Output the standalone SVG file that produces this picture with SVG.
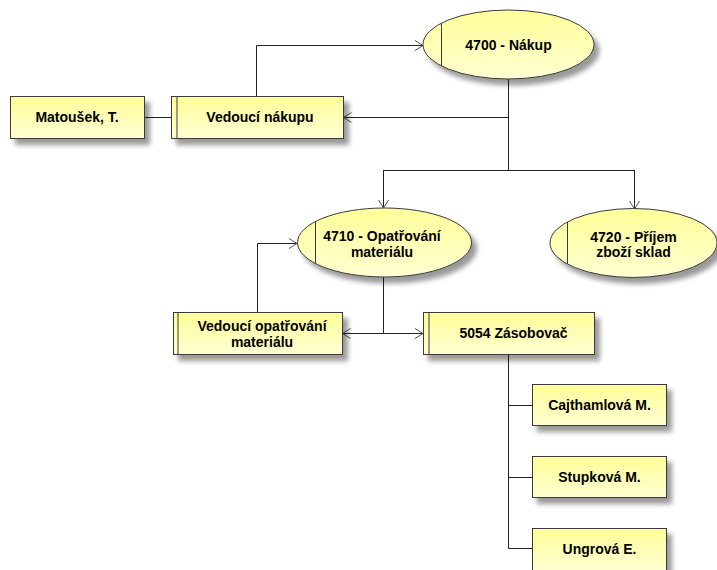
<svg xmlns="http://www.w3.org/2000/svg" width="717" height="570" viewBox="0 0 717 570">
<defs>
<linearGradient id="fillG" x1="0" y1="0" x2="0" y2="1">
<stop offset="0" stop-color="#ffff99"/>
<stop offset="1" stop-color="#ffffd2"/>
</linearGradient>
<filter id="shadow" x="-20%" y="-30%" width="150%" height="180%">
<feGaussianBlur in="SourceAlpha" stdDeviation="2.5"/>
<feOffset dx="5" dy="6" result="b"/>
<feComponentTransfer><feFuncA type="linear" slope="0.4"/></feComponentTransfer>
<feMerge><feMergeNode/><feMergeNode in="SourceGraphic"/></feMerge>
</filter>
<marker id="arr" markerWidth="10" markerHeight="12" refX="9" refY="6" orient="auto" markerUnits="userSpaceOnUse">
<path d="M1,1 L9,6 L1,11" fill="none" stroke="#555" stroke-width="1"/>
</marker>
</defs>
<style>
.box{fill:url(#fillG);stroke:#3a3a3a;stroke-width:1;filter:url(#shadow)}
.sep{stroke:#3a3a3a;stroke-width:1;fill:none}
.t{font-family:"Liberation Sans",Arial,sans-serif;font-size:14px;font-weight:bold;fill:#000;text-anchor:middle}
.c{stroke:#222;stroke-width:1;fill:none}
.ca{stroke:#222;stroke-width:1;fill:none;marker-end:url(#arr)}
</style>
<rect width="717" height="570" fill="#fff"/>
<g id="connectors">
<path class="c" d="M144.5,117.5 H171"/>
<path class="ca" d="M256.5,96 V45.5 H423"/>
<path class="ca" d="M508.5,79 V117.5 H343.5"/>
<path class="c" d="M508.5,117 V170.5"/>
<path class="c" d="M383.5,170.5 H634.5"/>
<path class="ca" d="M383.5,170 V208"/>
<path class="ca" d="M634.5,170 V209"/>
<path class="ca" d="M257.5,312 V243.5 H297"/>
<path class="c" d="M383.5,277 V333.5"/>
<path class="ca" d="M383.5,333.5 H342.5"/>
<path class="ca" d="M383.5,333.5 H423"/>
<path class="c" d="M508.5,355 V548.5 H532"/>
<path class="c" d="M508.5,405.5 H532"/>
<path class="c" d="M508.5,477.5 H532"/>
</g>
<g id="n-matousek">
<rect class="box" x="10.5" y="96.5" width="134" height="42"/>
<text class="t" x="77" y="122">Matoušek, T.</text>
</g>
<g id="n-vedouci-nakupu">
<rect class="box" x="171.5" y="96.5" width="172" height="42"/>
<line class="sep" x1="177" y1="96.5" x2="177" y2="138.5"/>
<text class="t" x="260" y="122">Vedoucí nákupu</text>
</g>
<g id="n-4700">
<ellipse class="box" cx="508.5" cy="44.5" rx="85.5" ry="34.5"/>
<line class="sep" x1="441.5" y1="23" x2="441.5" y2="66"/>
<text class="t" x="508.5" y="50">4700 - Nákup</text>
</g>
<g id="n-4710">
<ellipse class="box" cx="384.5" cy="242.5" rx="87" ry="34.5"/>
<line class="sep" x1="315.5" y1="222" x2="315.5" y2="263"/>
<text class="t" x="382" y="241">4710 - Opatřování</text>
<text class="t" x="382" y="257">materiálu</text>
</g>
<g id="n-4720">
<ellipse class="box" cx="633.5" cy="243" rx="83.5" ry="34.5"/>
<line class="sep" x1="567.5" y1="222" x2="567.5" y2="264"/>
<text class="t" x="633.5" y="242">4720 - Příjem</text>
<text class="t" x="633.5" y="257">zboží sklad</text>
</g>
<g id="n-vedouci-opatrovani">
<rect class="box" x="173.5" y="312.5" width="169" height="42"/>
<line class="sep" x1="178" y1="312.5" x2="178" y2="354.5"/>
<text class="t" x="262" y="331">Vedoucí opatřování</text>
<text class="t" x="262" y="347">materiálu</text>
</g>
<g id="n-5054">
<rect class="box" x="423.5" y="312.5" width="171" height="42"/>
<line class="sep" x1="429" y1="312.5" x2="429" y2="354.5"/>
<text class="t" x="513.5" y="338">5054 Zásobovač</text>
</g>
<g id="n-cajthamlova">
<rect class="box" x="532.5" y="384.5" width="134" height="41"/>
<text class="t" x="599.5" y="410">Cajthamlová M.</text>
</g>
<g id="n-stupkova">
<rect class="box" x="532.5" y="456.5" width="134" height="41"/>
<text class="t" x="599.5" y="482">Stupková M.</text>
</g>
<g id="n-ungrova">
<rect class="box" x="532.5" y="528.5" width="134" height="43"/>
<text class="t" x="599.5" y="554">Ungrová E.</text>
</g>
</svg>
